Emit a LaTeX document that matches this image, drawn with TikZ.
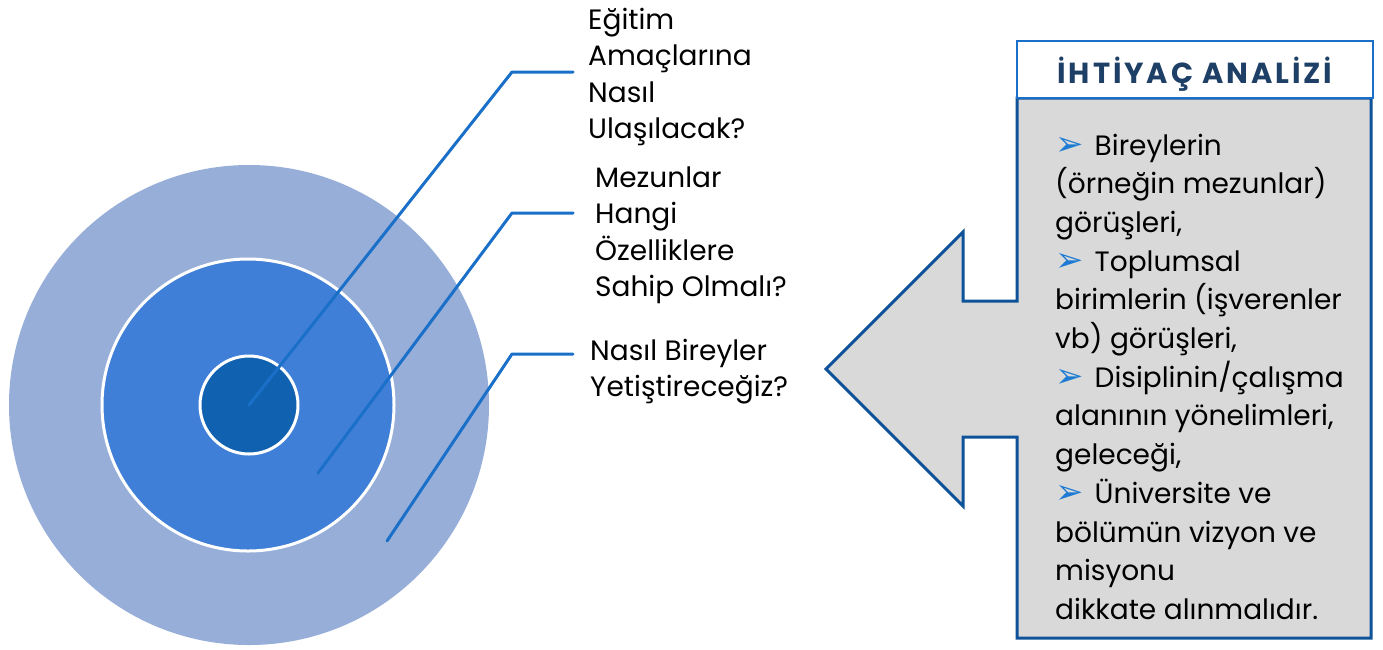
\documentclass[tikz,border=0pt]{standalone}
\usepackage{fontspec}
\setmainfont{Poppins}
\newfontfamily\dejavu{DejaVu Sans}
\newfontfamily\titlefont[LetterSpace=10]{Poppins}
\definecolor{ringout}{HTML}{97AED9}
\definecolor{ringmid}{HTML}{3F7FD7}
\definecolor{ringin}{HTML}{1062B1}
\definecolor{leadblue}{HTML}{1A70C8}
\definecolor{arrowblue}{HTML}{0E5399}
\definecolor{boxgray}{HTML}{D9D9D9}
\definecolor{titlenavy}{HTML}{1E3F66}
\definecolor{bulblue}{HTML}{1E7BD4}
\newcommand\bul{{\dejavu\color{bulblue}\fontsize{34}{34}\selectfont ➢}\hspace{11pt}}
\tikzset{
  leader/.style={draw=leadblue, line width=3pt, line cap=round, line join=round},
  qtext/.style={font=\fontsize{28}{36.5}\selectfont, align=left, inner sep=0pt, text=black},
  arrowbox/.style={draw=arrowblue, fill=boxgray, line width=3pt, line join=miter},
  titlebox/.style={draw=leadblue, fill=white, line width=2.5pt, minimum width=356pt, minimum height=57pt, inner sep=0pt},
  bodytext/.style={font=\fontsize{28}{38.7}\selectfont, align=left, inner sep=0pt, text=black}
}
\begin{document}
\begin{tikzpicture}[x=1pt,y=-1pt]
\useasboundingbox (0,0) rectangle (1383,649);
\fill[white] (0,0) rectangle (1383,649);
% target circles
\node[circle, fill=ringout, minimum size=480pt, inner sep=0pt] (outer) at (249,405) {};
\node[circle, fill=ringmid, draw=white, line width=3pt, minimum size=292pt, inner sep=0pt] (middle) at (248,405) {};
\node[circle, fill=ringin, draw=white, line width=3pt, minimum size=98pt, inner sep=0pt] (inner) at (249,405) {};
% leader lines
\coordinate (s2) at (318,473);
\coordinate (s3) at (387,541);
\coordinate (k1) at (512,72);
\coordinate (k2) at (512,213);
\coordinate (k3) at (512,354);
\coordinate (e1) at (573,72);
\coordinate (e2) at (573,213);
\coordinate (e3) at (573,354);
\draw[leader] (inner.center) -- (k1) -- (e1);
\draw[leader] (s2) -- (k2) -- (e2);
\draw[leader] (s3) -- (k3) -- (e3);
% question texts (base = baseline of last line)
\node[qtext, anchor=base west] (q1) at (588,138.5) {Eğitim\\Amaçlarına\\Nasıl\\Ulaşılacak?};
\node[qtext, anchor=base west] (q2) at (595,296.5) {Mezunlar\\Hangi\\Özelliklere\\Sahip Olmalı?};
\node[qtext, anchor=base west] (q3) at (590,396.5) {Nasıl Bireyler\\Yetiştireceğiz?};
% arrow callout
\draw[arrowbox] (1017,98) -- (1371,98) -- (1371,638) -- (1017,638) -- (1017,437) -- (963,437) -- (963,506) -- (826,369) -- (963,232) -- (963,301) -- (1017,301) -- cycle;
\node[titlebox] (title) at (1195,69.5) {};
\node[anchor=base, inner sep=0pt, text=titlenavy, font=\titlefont\bfseries\fontsize{29}{29}\selectfont] (titletext) at (1195,83) {İHTİYAÇ ANALİZİ};
\node[bodytext, anchor=base west] (body) at (1055,619.4) {\bul Bireylerin\\(örneğin mezunlar)\\görüşleri,\\\bul Toplumsal\\birimlerin (işverenler\\vb) görüşleri,\\\bul Disiplinin/çalışma\\alanının yönelimleri,\\geleceği,\\\bul Üniversite ve\\bölümün vizyon ve\\misyonu\\dikkate alınmalıdır.};
\end{tikzpicture}
\end{document}
